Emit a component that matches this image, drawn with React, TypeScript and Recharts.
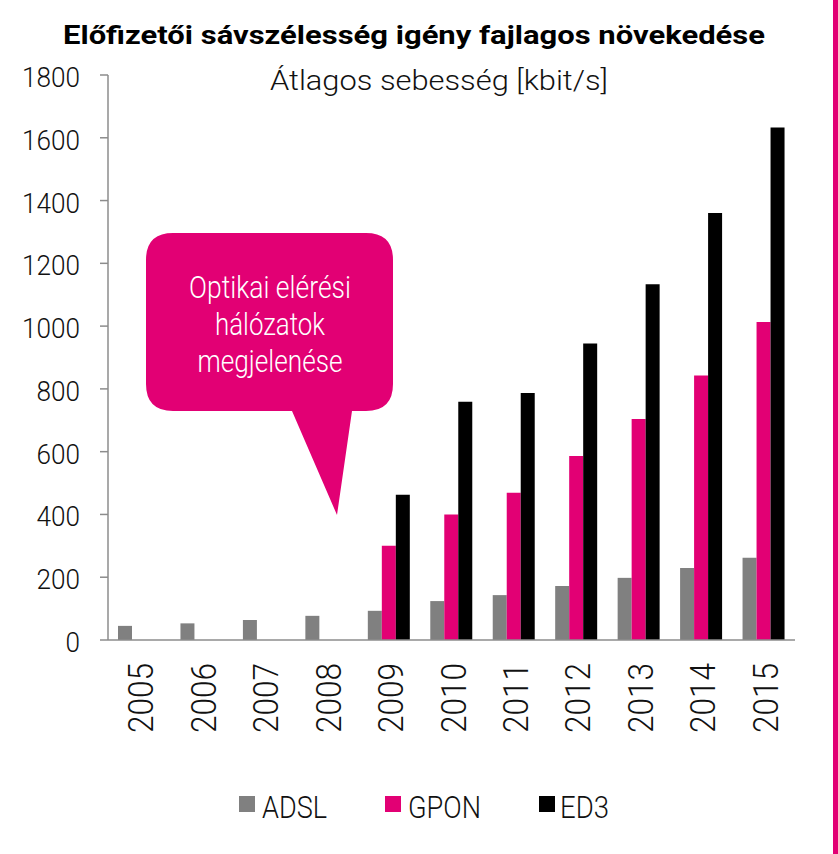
import { BarChart, Bar, XAxis, YAxis } from "recharts";

// átlagos sebesség, kbit/s
const YEARS = ["2005", "2006", "2007", "2008", "2009", "2010", "2011", "2012", "2013", "2014", "2015"];
const ADSL = [45, 53, 64, 77, 93, 124, 143, 172, 198, 229, 262];
const GPON = [null, null, null, null, 300, 400, 469, 586, 704, 843, 1013];
const ED3 = [null, null, null, null, 463, 759, 787, 945, 1133, 1360, 1633];
const Y_TICKS = [0, 200, 400, 600, 800, 1000, 1200, 1400, 1600, 1800];

const SERIES = [
  { key: "ADSL", color: "#808080" },
  { key: "GPON", color: "#E20074" },
  { key: "ED3", color: "#000000" },
];

const TITLE = "Előfizetői sávszélesség igény fajlagos növekedése";
const SUBTITLE = "Átlagos sebesség [kbit/s]";
const CALLOUT = ["Optikai elérési", "hálózatok", "megjelenése"];

const FONT = 'Roboto, "Liberation Sans", sans-serif';
const MAGENTA = "#E20074";
const AXIS = "#8c8c8c";

const rows = YEARS.map((year, i) => ({ year, ADSL: ADSL[i], GPON: GPON[i], ED3: ED3[i] }));

function YTick({ x, y, payload }: any) {
  const s = String(payload.value);
  return (
    <text x={x} y={y + 12} textAnchor="end" fontFamily={FONT} fontWeight={300} fontSize={28}
      fill="#111" textLength={s.length * 14.5} lengthAdjust="spacingAndGlyphs">
      {s}
    </text>
  );
}

function XTick({ x, y, payload }: any) {
  return (
    <text transform={`translate(${x + 14},${y}) rotate(-90)`} textAnchor="end" fontFamily={FONT}
      fontWeight={300} fontSize={35} fill="#111" textLength={70} lengthAdjust="spacingAndGlyphs">
      {payload.value}
    </text>
  );
}

const legendPos = [
  { sq: 239, tx: 262, len: 65 },
  { sq: 385, tx: 408, len: 73 },
  { sq: 539, tx: 560, len: 49 },
];
const calloutLens = [162, 110, 145];

export default function App() {
  return (
    <div style={{ position: "absolute", left: 0, top: 0, width: 838, height: 854, background: "#fff" }}>
      <BarChart width={838} height={854} data={rows} barSize={14} barGap={0}
        margin={{ top: 75, right: 43, left: 0, bottom: 94 }}>
        <XAxis dataKey="year" height={120} axisLine={{ stroke: AXIS, strokeWidth: 1.5 }} tickLine={false}
          tickSize={0} tickMargin={23} interval={0} tick={<XTick />} />
        <YAxis width={108} domain={[0, 1800]} ticks={Y_TICKS} interval={0}
          axisLine={{ stroke: AXIS, strokeWidth: 1.5 }} tickLine={{ stroke: AXIS, strokeWidth: 1.5 }}
          tickSize={8} tickMargin={20} tick={<YTick />} />
        {SERIES.map((s) => (
          <Bar key={s.key} dataKey={s.key} fill={s.color} isAnimationActive={false} />
        ))}
      </BarChart>

      <svg width={838} height={854} style={{ position: "absolute", left: 0, top: 0, pointerEvents: "none" }}>
        <text x={63} y={44} fontFamily={FONT} fontWeight={700} fontSize={26} fill="#000"
          textLength={702} lengthAdjust="spacingAndGlyphs">{TITLE}</text>
        <text x={270} y={90} fontFamily={FONT} fontWeight={300} fontSize={28} fill="#111"
          textLength={338} lengthAdjust="spacingAndGlyphs">{SUBTITLE}</text>

        {/* callout */}
        <path
          d="M173,233 H366 Q393,233 393,260 V384 Q393,411 366,411 H352 L337,515 L292,411 H173 Q146,411 146,384 V260 Q146,233 173,233 Z"
          fill={MAGENTA}
        />
        {CALLOUT.map((line, i) => (
          <text key={line} x={270} y={298 + i * 37} textAnchor="middle" fontFamily={FONT} fontWeight={300}
            fontSize={31} fill="#fff" textLength={calloutLens[i]} lengthAdjust="spacingAndGlyphs">{line}</text>
        ))}

        {/* legend */}
        {SERIES.map((s, i) => (
          <g key={s.key}>
            <rect x={legendPos[i].sq} y={796} width={16} height={16} fill={s.color} />
            <text x={legendPos[i].tx} y={818} fontFamily={FONT} fontWeight={300} fontSize={31} fill="#111"
              textLength={legendPos[i].len} lengthAdjust="spacingAndGlyphs">{s.key}</text>
          </g>
        ))}

        <rect x={833} y={0} width={5} height={854} fill={MAGENTA} />
      </svg>
    </div>
  );
}
